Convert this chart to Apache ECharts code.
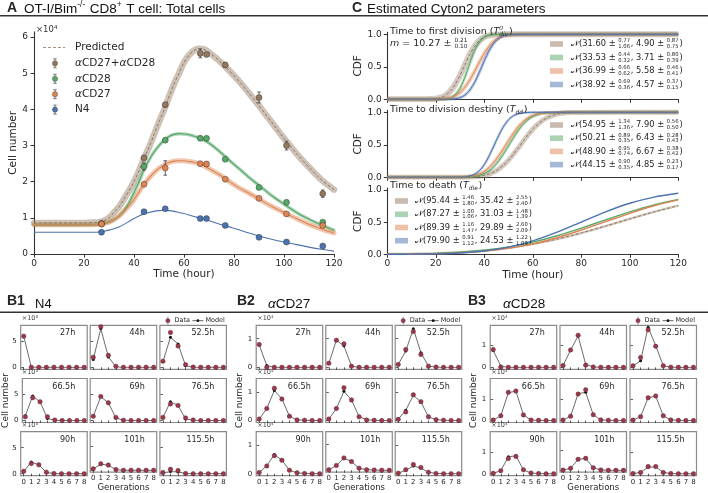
<!DOCTYPE html>
<html><head><meta charset="utf-8">
<script src="https://cdn.jsdelivr.net/npm/echarts@6/dist/echarts.min.js"></script>
<style>html,body{margin:0;padding:0;background:#fff}#c{width:708px;height:493px}</style>
</head><body><div id="c"></div><script>
// ---------------- DATA ----------------
// Panel A: total cells (x10^4)
const tObs = [27, 44, 52.5, 66.5, 69, 76.5, 90, 101, 115.5];
const obsBoth = [0.85, 2.66, 4.13, 5.55, 5.52, 5.23, 4.33, 3.00, 1.67];
const errBoth = [0.04, 0.05, 0.06, 0.12, 0.05, 0.07, 0.15, 0.12, 0.10];
const obsCD28 = [0.83, 2.42, 3.15, 3.20, 3.20, 2.62, 1.84, 1.43, 0.88];
const errCD28 = [0.03, 0.10, 0.04, 0.06, 0.03, 0.03, 0.04, 0.04, 0.03];
const obsCD27 = [0.83, 1.93, 2.38, 2.50, 2.49, 2.07, 1.54, 1.11, 0.79];
const errCD27 = [0.03, 0.03, 0.20, 0.05, 0.06, 0.03, 0.03, 0.03, 0.03];
const obsN4 = [0.60, 1.17, 1.25, 0.98, 0.98, 0.79, 0.46, 0.33, 0.22];
const errN4 = [0.02, 0.03, 0.03, 0.02, 0.02, 0.02, 0.02, 0.02, 0.02];
const tModel = [0,20,24,26,28,30,32,34,36,38,40,42,44,46,48,50,52,54,56,58,60,62,64,66,68,70,74,78,82,86,90,95,100,105,110,115,120];
const modelBoth = [0.86,0.86,0.87,0.88,0.92,1.0,1.15,1.3,1.52,1.75,2.0,2.3,2.65,2.95,3.3,3.65,3.98,4.35,4.7,5.0,5.3,5.5,5.63,5.68,5.66,5.58,5.35,5.08,4.78,4.45,4.1,3.65,3.2,2.78,2.4,2.05,1.78];
const modelCD28 = [0.81,0.81,0.81,0.82,0.84,0.88,0.95,1.05,1.2,1.42,1.7,2.0,2.33,2.6,2.82,3.0,3.14,3.25,3.31,3.33,3.32,3.3,3.26,3.21,3.15,3.07,2.85,2.6,2.36,2.12,1.9,1.62,1.38,1.15,0.96,0.8,0.66];
const modelCD27 = [0.81,0.81,0.81,0.82,0.84,0.88,0.95,1.05,1.18,1.33,1.5,1.72,1.93,2.1,2.25,2.37,2.46,2.53,2.57,2.58,2.58,2.56,2.54,2.5,2.44,2.36,2.2,2.01,1.83,1.68,1.52,1.32,1.15,0.98,0.82,0.69,0.58];
const modelN4 = [0.6,0.6,0.6,0.61,0.63,0.66,0.7,0.75,0.82,0.9,0.98,1.05,1.11,1.15,1.18,1.2,1.21,1.2,1.18,1.15,1.12,1.08,1.04,1.0,0.96,0.92,0.83,0.75,0.67,0.58,0.5,0.41,0.33,0.26,0.19,0.13,0.08];
const aXTicks = [0, 20, 40, 60, 80, 100, 120];
const aYTicks = [0, 1, 2, 3, 4, 5, 6];
const aLegend = ['αCD27+αCD28', 'αCD28', 'αCD27', 'N4'];

// Panel C: CDFs
const tDiv = [0,16,20,22,24,26,28,30,32,34,36,38,40,42,44,46,48,50,52,56,60,120];
const cdfDivBoth = [0,0.001,0.009,0.025,0.06,0.127,0.23,0.37,0.53,0.69,0.815,0.905,0.957,0.983,0.994,0.998,1,1,1,1,1,1];
const cdfDivCD28 = [0,0,0,0.001,0.005,0.021,0.068,0.171,0.34,0.55,0.75,0.885,0.959,0.989,0.998,1,1,1,1,1,1,1];
const cdfDivCD27 = [0,0,0.001,0.004,0.01,0.024,0.054,0.105,0.186,0.296,0.43,0.572,0.705,0.815,0.896,0.947,0.976,0.99,0.996,1,1,1];
const cdfDivN4 = [0,0,0,0,0.001,0.002,0.008,0.026,0.065,0.14,0.261,0.42,0.594,0.75,0.867,0.939,0.977,0.992,0.998,1,1,1];
const tDd = [0,30,32,34,36,38,40,42,44,46,48,50,52,54,56,58,60,62,64,66,68,70,72,76,80,120];
const cdfDdBoth = [0,0.001,0.002,0.004,0.008,0.016,0.029,0.05,0.083,0.129,0.19,0.265,0.354,0.452,0.553,0.651,0.739,0.814,0.874,0.919,0.951,0.972,0.985,0.996,0.999,1];
const cdfDdCD28 = [0,0.001,0.002,0.006,0.014,0.029,0.056,0.1,0.167,0.257,0.366,0.488,0.609,0.722,0.816,0.887,0.936,0.967,0.984,0.993,0.997,0.999,1,1,1,1];
const cdfDdCD27 = [0,0.002,0.006,0.013,0.027,0.051,0.091,0.151,0.232,0.332,0.446,0.565,0.678,0.777,0.856,0.914,0.952,0.975,0.988,0.995,0.998,0.999,1,1,1,1];
const cdfDdN4 = [0,0.002,0.006,0.018,0.046,0.102,0.196,0.33,0.488,0.648,0.786,0.886,0.947,0.979,0.993,0.998,1,1,1,1,1,1,1,1,1,1];
const tDie = [0,10,20,30,40,50,60,70,80,90,100,110,120];
const cdfDieBoth = [0.004,0.008,0.017,0.032,0.058,0.1,0.159,0.236,0.332,0.439,0.551,0.66,0.757];
const cdfDieCD28 = [0.002,0.006,0.015,0.032,0.064,0.115,0.19,0.289,0.408,0.535,0.66,0.768,0.854];
const cdfDieCD27 = [0.001,0.004,0.01,0.023,0.049,0.094,0.163,0.258,0.378,0.508,0.638,0.755,0.847];
const cdfDieN4 = [0.001,0.002,0.007,0.021,0.052,0.111,0.209,0.344,0.502,0.66,0.794,0.89,0.949];
const cdfTicks = [0, 0.5, 1];
// legend parameter texts: mean, +, -, sd, +, -
const divParams = [['31.60','0.77','1.06','4.90','0.87','0.75'],['33.53','0.44','0.32','3.71','0.80','0.39'],['36.99','0.66','0.62','5.58','0.46','0.41'],['38.92','0.69','0.36','4.57','0.37','0.15']];
const ddParams = [['54.95','1.34','1.36','7.90','0.56','0.50'],['50.21','0.89','0.35','6.43','0.28','0.43'],['48.90','0.95','0.74','6.67','0.38','0.42'],['44.15','0.90','0.35','4.85','0.23','0.17']];
const dieParams = [['95.44','1.46','1.80','35.42','2.55','2.40'],['87.27','1.00','1.06','31.03','1.48','1.39'],['89.39','1.16','1.47','29.89','2.60','2.09'],['79.90','0.91','1.12','24.53','1.22','1.09']];

// Panel B: cells per generation
const gens = [0,1,2,3,4,5,6,7,8];
const timeLabels = ['27h','44h','52.5h','66.5h','69h','76.5h','90h','101h','115.5h'];
const b1YTicks = [0, 5];
const b23YTicks = [0, 1];
// N4 (x10^3)
const n4Data = [
 [6.0,0,0,0,0,0,0,0,0],[1.95,7.8,2.3,0.2,0,0,0,0,0],[1.17,6.7,4.1,0.5,0.05,0,0,0,0],
 [0.7,4.4,3.6,0.7,0.1,0,0,0,0],[0.8,4.6,3.4,0.6,0.05,0,0,0,0],[0.6,3.2,2.9,0.5,0.1,0,0,0,0],
 [0.45,1.95,1.7,0.3,0.02,0,0,0,0],[0.3,1.35,1.1,0.15,0,0,0,0,0],[0.25,0.85,0.6,0.05,0,0,0,0,0]];
const n4Model = [
 [6.0,0.05,0,0,0,0,0,0,0],[1.5,7.45,2.0,0.1,0,0,0,0,0],[1.1,5.8,4.5,0.3,0.02,0,0,0,0],
 [0.9,4.7,3.6,0.4,0.05,0,0,0,0],[0.8,4.6,3.4,0.5,0.05,0,0,0,0],[0.6,3.6,2.9,0.3,0.05,0,0,0,0],
 [0.45,2.25,1.7,0.25,0.02,0,0,0,0],[0.25,1.3,1.05,0.12,0,0,0,0,0],[0.15,0.4,0.35,0.03,0,0,0,0,0]];
// aCD27 (x10^4)
const cd27Data = [
 [0.8,0,0,0,0,0,0,0,0],[0.14,0.95,0.82,0.04,0,0,0,0,0],[0.1,0.62,1.25,0.45,0.04,0.01,0,0,0],
 [0.05,0.42,1.13,0.75,0.15,0.02,0.01,0,0],[0.05,0.42,1.15,0.72,0.13,0.02,0.01,0,0],[0.04,0.3,0.9,0.66,0.13,0.03,0.01,0,0],
 [0.04,0.27,0.63,0.47,0.12,0.03,0.01,0,0],[0.02,0.18,0.47,0.33,0.08,0.02,0.01,0,0],[0.02,0.14,0.32,0.22,0.05,0.01,0,0,0]];
const cd27Model = [
 [0.78,0.06,0,0,0,0,0,0,0],[0.13,0.95,0.75,0.04,0,0,0,0,0],[0.1,0.57,1.35,0.51,0.04,0.01,0,0,0],
 [0.05,0.42,1.05,0.76,0.15,0.02,0.01,0,0],[0.05,0.42,1.02,0.72,0.14,0.02,0.01,0,0],[0.04,0.36,0.88,0.65,0.13,0.03,0.01,0,0],
 [0.04,0.28,0.67,0.47,0.12,0.03,0.01,0,0],[0.02,0.18,0.47,0.33,0.08,0.02,0.01,0,0],[0.02,0.12,0.27,0.2,0.05,0.01,0,0,0]];
// aCD28 (x10^4)
const cd28Data = [
 [0.82,0,0,0,0,0,0,0,0],[0.08,0.8,1.48,0.1,0.02,0,0,0,0],[0.07,0.45,1.73,0.97,0.07,0.01,0,0,0],
 [0.02,0.22,1.3,1.36,0.26,0.02,0.01,0,0],[0.02,0.2,1.22,1.42,0.27,0.03,0.01,0,0],[0.02,0.18,1.05,1.13,0.22,0.03,0.01,0,0],
 [0.02,0.14,0.7,0.8,0.18,0.03,0.01,0,0],[0.01,0.1,0.55,0.6,0.13,0.02,0,0,0],[0.01,0.06,0.33,0.33,0.06,0.01,0,0,0]];
const cd28Model = [
 [0.78,0.06,0,0,0,0,0,0,0],[0.08,0.8,1.45,0.14,0.02,0,0,0,0],[0.07,0.3,1.85,1.0,0.07,0.01,0,0,0],
 [0.02,0.22,1.28,1.36,0.26,0.02,0.01,0,0],[0.02,0.2,1.24,1.3,0.27,0.03,0.01,0,0],[0.02,0.18,1.05,1.13,0.22,0.03,0.01,0,0],
 [0.02,0.14,0.78,0.83,0.18,0.03,0.01,0,0],[0.01,0.1,0.55,0.6,0.13,0.02,0,0,0],[0.01,0.06,0.3,0.32,0.06,0.01,0,0,0]];

// ---------------- STYLE / LAYOUT ----------------
const FONT = 'DejaVu Sans', TFONT = 'Liberation Sans', INK = '#262626', AX = '#333';
const C_BROWN = '#937860', C_GREEN = '#55a868', C_ORANGE = '#dd8452', C_BLUE = '#4c72b0';
const C_DATA = '#983a4c';
const condColors = [C_BROWN, C_GREEN, C_ORANGE, C_BLUE];

const mctx = document.createElement('canvas').getContext('2d');
function fstr(size, fam, it, bold) { return (it ? 'italic ' : '') + (bold ? 'bold ' : '') + size + 'px "' + fam + '"'; }
function meas(t, f) { mctx.font = f; return mctx.measureText(t).width; }
function txt(x, y, t, f, c, align) {
  return { type: 'text', x: x, y: y, silent: true, z: 50,
    style: { text: t, font: f, fill: c || INK, align: align || 'left', verticalAlign: 'middle', textAlign: align || 'left', textVerticalAlign: 'middle' } };
}
function mathText(x, y, parts, base) {
  const els = []; let cx = x;
  for (const p of parts) {
    const size = p.s || base.size, fam = p.f || base.fam;
    if (p.t !== undefined) {
      const f = fstr(size, fam, p.i, p.b);
      els.push(txt(cx, y + (p.dy || 0), p.t, f, base.color));
      cx += meas(p.t, f);
    } else {
      const ss = p.ss || size * 0.62; const f = fstr(ss, fam, p.i, false);
      let w = 0;
      if (p.sup !== undefined) { els.push(txt(cx, y - size * (p.supUp || 0.36), p.sup, f, base.color)); w = Math.max(w, meas(p.sup, f)); }
      if (p.sub !== undefined) { els.push(txt(cx, y + size * (p.subDn || 0.32), p.sub, f, base.color)); w = Math.max(w, meas(p.sub, f)); }
      cx += w + 0.8;
    }
  }
  return els;
}
function lineEl(x1, y1, x2, y2, c, w, dash) {
  const s = { stroke: c, lineWidth: w };
  if (dash) s.lineDash = dash;
  return { type: 'line', silent: true, z: 50, shape: { x1, y1, x2, y2 }, style: s };
}
function zip(xs, ys) { return xs.map((x, i) => [x, ys[i]]); }

const grids = [], xAxes = [], yAxes = [], series = [], G = [];

// ---- Panel A grid (index 0)
grids.push({ left: 34, top: 31.7, width: 300, height: 222.3 });
xAxes.push({ gridIndex: 0, type: 'value', min: 0, max: 120, interval: 20,
  axisLine: { show: true, lineStyle: { color: AX, width: 1.1 } }, axisTick: { show: true, length: 3.5, lineStyle: { color: AX } },
  axisLabel: { fontSize: 9, fontFamily: FONT, color: INK, margin: 5 }, splitLine: { show: false },
  name: 'Time (hour)', nameLocation: 'middle', nameGap: 14.5, nameTextStyle: { fontSize: 10.5, fontFamily: FONT, color: INK } });
yAxes.push({ gridIndex: 0, type: 'value', min: 0, max: 6.15,
  axisLine: { show: true, lineStyle: { color: AX, width: 1.1 } }, axisTick: { show: true, length: 3.5, customValues: aYTicks, lineStyle: { color: AX } },
  axisLabel: { fontSize: 9, fontFamily: FONT, color: INK, margin: 6, customValues: aYTicks }, splitLine: { show: false },
  name: 'Cell number', nameLocation: 'middle', nameGap: 13, nameRotate: 90, nameTextStyle: { fontSize: 10.5, fontFamily: FONT, color: INK } });

const aModels = [modelBoth, modelCD28, modelCD27, modelN4];
const aObs = [obsBoth, obsCD28, obsCD27, obsN4];
const aErr = [errBoth, errCD28, errCD27, errN4];
const aBand = [6.5, 3.5, 5, 0];
aModels.forEach((m, k) => {
  if (aBand[k] > 0) series.push({ type: 'line', xAxisIndex: 0, yAxisIndex: 0, data: zip(tModel, m), symbol: 'none', smooth: 0.3, silent: true, z: 1,
    lineStyle: { color: condColors[k], width: aBand[k], opacity: 0.45, cap: 'round' } });
  series.push({ type: 'line', xAxisIndex: 0, yAxisIndex: 0, data: zip(tModel, m), symbol: 'none', smooth: 0.3, silent: true, z: 2,
    lineStyle: k === 0 ? { color: '#8c7763', width: 1, type: [3, 2] } : { color: condColors[k], width: 1.1 } });
});
function errSeries(gi, xs, ys, es, z) {
  return { type: 'custom', xAxisIndex: gi, yAxisIndex: gi, z: z || 3, silent: true, clip: false, encode: { x: 0, y: 1 },
    data: xs.map((x, i) => [x, ys[i], es[i]]),
    renderItem: (p, api) => {
      const t = api.value(0), v = api.value(1), e = api.value(2);
      const a = api.coord([t, v - e]), b = api.coord([t, v + e]);
      const st = { stroke: '#3a3a3a', lineWidth: 0.8 };
      return { type: 'group', children: [
        { type: 'line', shape: { x1: a[0], y1: a[1], x2: b[0], y2: b[1] }, style: st },
        { type: 'line', shape: { x1: a[0] - 1.8, y1: a[1], x2: a[0] + 1.8, y2: a[1] }, style: st },
        { type: 'line', shape: { x1: b[0] - 1.8, y1: b[1], x2: b[0] + 1.8, y2: b[1] }, style: st }] };
    } };
}
aObs.forEach((o, k) => {
  series.push(errSeries(0, tObs, o, aErr[k], 3));
  series.push({ type: 'scatter', xAxisIndex: 0, yAxisIndex: 0, data: zip(tObs, o), symbol: 'circle', symbolSize: 6, silent: true, z: 4,
    itemStyle: { color: condColors[k], borderColor: 'rgba(40,40,40,0.7)', borderWidth: 0.6, opacity: 1 } });
});

// ---- Panel C grids (1..3)
const cTops = [32.4, 110.4, 188.1], cHeights = [66.9, 66.9, 66.2];
const cT = [tDiv, tDd, tDie];
const cCurves = [[cdfDivBoth, cdfDivCD28, cdfDivCD27, cdfDivN4], [cdfDdBoth, cdfDdCD28, cdfDdCD27, cdfDdN4], [cdfDieBoth, cdfDieCD28, cdfDieCD27, cdfDieN4]];
const cBands = [[6, 3, 4, 3], [5, 3, 3.5, 2.5], [2.5, 0, 0, 0]];
for (let j = 0; j < 3; j++) {
  const gi = 1 + j;
  grids.push({ left: 387.3, top: cTops[j], width: 291, height: cHeights[j] });
  xAxes.push({ gridIndex: gi, type: 'value', min: 0, max: 120, interval: 20,
    axisLine: { show: true, lineStyle: { color: AX, width: 1.1 } }, axisTick: { show: true, length: 3.5, lineStyle: { color: AX } },
    axisLabel: { show: j === 2, fontSize: 9, fontFamily: FONT, color: INK, margin: 5 }, splitLine: { show: false },
    name: j === 2 ? 'Time (hour)' : '', nameLocation: 'middle', nameGap: 15, nameTextStyle: { fontSize: 10.5, fontFamily: FONT, color: INK } });
  yAxes.push({ gridIndex: gi, type: 'value', min: 0, max: 1.03,
    axisLine: { show: true, lineStyle: { color: AX, width: 1.1 } }, axisTick: { show: true, length: 3.5, customValues: cdfTicks, lineStyle: { color: AX } },
    axisLabel: { fontSize: 9, fontFamily: FONT, color: INK, margin: 5.5, customValues: cdfTicks, formatter: v => v.toFixed(1) }, splitLine: { show: false },
    name: 'CDF', nameLocation: 'middle', nameGap: 20, nameRotate: 90, nameTextStyle: { fontSize: 10.5, fontFamily: FONT, color: INK } });
  cCurves[j].forEach((cv, k) => {
    if (cBands[j][k] > 0) series.push({ type: 'line', xAxisIndex: gi, yAxisIndex: gi, data: zip(cT[j], cv), symbol: 'none', smooth: 0.25, silent: true, z: 1,
      lineStyle: { color: condColors[k], width: cBands[j][k], opacity: 0.4 } });
    series.push({ type: 'line', xAxisIndex: gi, yAxisIndex: gi, data: zip(cT[j], cv), symbol: 'none', smooth: 0.25, silent: true, z: 2,
      lineStyle: k === 0 ? { color: '#8c7763', width: 1, type: [3, 2] } : { color: condColors[k], width: j === 2 ? 1.4 : 1 } });
  });
}

// ---- Panel B grids (4..30)
const rowTops = [325.3, 378.5, 431.7], bH = 44, bW = 66.5;
const bLefts = [[20.7, 90.2, 159.9], [256.2, 325.8, 395.2], [490.2, 560.0, 630.0]];
const bYR = [[-0.385, 8.085], [-0.07, 1.47], [-0.09, 1.94]];
const bYT = [b1YTicks, b23YTicks, b23YTicks];
const bNameGap = [7, 7, 4.5];
const bData = [n4Data, cd27Data, cd28Data], bModel = [n4Model, cd27Model, cd28Model];
const bExp = ['×10³', '×10⁴', '×10⁴'];
for (let p = 0; p < 3; p++) {
  for (let r = 0; r < 3; r++) {
    for (let c = 0; c < 3; c++) {
      const gi = grids.length, k = r * 3 + c;
      grids.push({ left: bLefts[p][c], top: rowTops[r], width: bW, height: bH, show: true, borderColor: '#8a8a8a', borderWidth: 1.2, backgroundColor: 'transparent' });
      xAxes.push({ gridIndex: gi, type: 'value', min: -0.4, max: 8.4,
        axisLine: { show: false }, axisTick: { show: true, length: 2.5, customValues: gens, lineStyle: { color: AX, width: 0.8 } },
        axisLabel: { show: r === 2, customValues: gens, fontSize: 7, fontFamily: FONT, color: INK, margin: 3 }, splitLine: { show: false },
        name: (r === 2 && c === 1) ? 'Generations' : '', nameLocation: 'middle', nameGap: 10, nameTextStyle: { fontSize: 8.5, fontFamily: FONT, color: INK } });
      yAxes.push({ gridIndex: gi, type: 'value', min: bYR[p][0], max: bYR[p][1],
        axisLine: { show: false }, axisTick: { show: true, length: 2.5, customValues: bYT[p], lineStyle: { color: AX, width: 0.8 } },
        axisLabel: { show: c === 0, customValues: bYT[p], fontSize: 7, fontFamily: FONT, color: INK, margin: 4 }, splitLine: { show: false },
        name: (r === 1 && c === 0) ? 'Cell number' : '', nameLocation: 'middle', nameGap: bNameGap[p], nameRotate: 90, nameTextStyle: { fontSize: 9, fontFamily: FONT, color: INK } });
      series.push({ type: 'line', xAxisIndex: gi, yAxisIndex: gi, data: zip(gens, bModel[p][k]), symbol: 'circle', symbolSize: 3, showSymbol: true, silent: true, z: 2,
        lineStyle: { color: '#5a5a5a', width: 0.9 }, itemStyle: { color: '#111', borderWidth: 0 } });
      series.push({ type: 'scatter', xAxisIndex: gi, yAxisIndex: gi, data: zip(gens, bData[p][k]), symbol: 'circle', symbolSize: 4.5, silent: true, z: 3,
        itemStyle: { color: C_DATA, borderColor: '#5e2230', borderWidth: 0.4, opacity: 1 } });
      G.push(txt(bLefts[p][c] + bW - 12, rowTops[r] + 8, timeLabels[k], fstr(8, FONT), INK, 'right'));
      if (c === 0) G.push(txt(bLefts[p][0] + 1, rowTops[r] - 6.5, bExp[p], fstr(6.5, FONT), '#444'));
    }
  }
  // B legend
  const mx = bLefts[p][2] + bW - 58.5, ly = 320.7;
  G.push(lineEl(mx, ly - 4, mx, ly + 4, '#555', 0.6));
  G.push({ type: 'circle', silent: true, z: 50, shape: { cx: mx, cy: ly, r: 2.1 }, style: { fill: C_DATA, stroke: '#5e2230', lineWidth: 0.4 } });
  G.push(txt(mx + 6.5, ly, 'Data', fstr(6.5, FONT)));
  G.push(lineEl(mx + 24.5, ly, mx + 35.5, ly, '#555', 0.9));
  G.push({ type: 'circle', silent: true, z: 50, shape: { cx: mx + 30, cy: ly, r: 1.4 }, style: { fill: '#111' } });
  G.push(txt(mx + 37.5, ly, 'Model', fstr(6.5, FONT)));
}

// ---- Titles & rules
G.push(lineEl(0, 15.8, 708, 15.8, '#333', 1.5));
G.push(lineEl(0, 312.3, 708, 312.3, '#333', 1.5));
G.push(txt(7, 8.5, 'A', fstr(14, TFONT, false, true)));
G.push(...mathText(24, 9, [{ t: 'OT-I/Bim' }, { sup: '-/-', ss: 8.5, supUp: 0.3 }, { t: ' CD8' }, { sup: '+', ss: 8.5, supUp: 0.3 }, { t: ' T cell: Total cells' }], { size: 13.5, fam: TFONT, color: '#111' }));
G.push(txt(352, 8.5, 'C', fstr(14, TFONT, false, true)));
G.push(txt(367, 9, 'Estimated Cyton2 parameters', fstr(13.5, TFONT), '#111'));
G.push(txt(7, 301, 'B1', fstr(14, TFONT, false, true)));
G.push(txt(35, 304.5, 'N4', fstr(13, TFONT), '#111'));
G.push(txt(237, 301, 'B2', fstr(14, TFONT, false, true)));
G.push(...mathText(268, 304, [{ t: 'α', i: true }, { t: 'CD27' }], { size: 13.5, fam: TFONT, color: '#111' }));
G.push(txt(468, 301, 'B3', fstr(14, TFONT, false, true)));
G.push(...mathText(503, 304, [{ t: 'α', i: true }, { t: 'CD28' }], { size: 13.5, fam: TFONT, color: '#111' }));

// ---- Panel A legend
G.push(txt(36, 30, '×10⁴', fstr(8.5, FONT), '#333'));
G.push(lineEl(43, 47.5, 65, 47.5, '#a8917a', 1.2, [3, 2]));
G.push(txt(75, 47.7, 'Predicted', fstr(10.5, FONT)));
const aLegY = [63.3, 78.8, 94.2, 109.6];
aLegend.forEach((lab, k) => {
  const y = aLegY[k];
  G.push(lineEl(55, y - 4.5, 55, y + 4.5, '#444', 0.7));
  G.push(lineEl(53.3, y - 4.5, 56.7, y - 4.5, '#444', 0.7));
  G.push(lineEl(53.3, y + 4.5, 56.7, y + 4.5, '#444', 0.7));
  G.push({ type: 'circle', silent: true, z: 50, shape: { cx: 55, cy: y, r: 2.6 }, style: { fill: condColors[k], stroke: 'rgba(40,40,40,0.7)', lineWidth: 0.5 } });
  const parts = [];
  lab.split(/(α)/).filter(s => s).forEach(s => parts.push(s === 'α' ? { t: 'α', i: true } : { t: s }));
  G.push(...mathText(75, y, parts, { size: 10.5, fam: FONT, color: INK }));
});

// ---- Panel C texts & legends
const mbase = { size: 9.5, fam: FONT, color: INK };
G.push(...mathText(390, 31.7, [{ t: 'Time to first division (' }, { t: 'T', i: true }, { sup: '0', sub: 'div', i: true }, { t: ')' }], mbase));
G.push(...mathText(390, 43.5, [{ t: 'm', i: true }, { t: ' = 10.27 ± ' }, { sup: '0.21', sub: '0.10' }], mbase));
G.push(...mathText(390, 109.5, [{ t: 'Time to division destiny (' }, { t: 'T', i: true }, { sub: 'dd', i: true, subDn: 0.28 }, { t: ')' }], mbase));
G.push(...mathText(390, 185.5, [{ t: 'Time to death (' }, { t: 'T', i: true }, { sub: 'die', i: true, subDn: 0.28 }, { t: ')' }], mbase));
function cLegend(px, tx, ys, params) {
  params.forEach((pr, k) => {
    const y = ys[k];
    G.push({ type: 'rect', silent: true, z: 50, shape: { x: px, y: y - 2.8, width: 13, height: 5.6 }, style: { fill: condColors[k], opacity: 0.5 } });
    G.push(...mathText(tx, y, [{ t: '𝒩(' }, { t: pr[0] + ' ± ' }, { sup: pr[1], sub: pr[2], ss: 5.3 }, { t: ', ' + pr[3] + ' ± ' }, { sup: pr[4], sub: pr[5], ss: 5.3 }, { t: ')' }],
      { size: 8.3, fam: FONT, color: INK }));
  });
}
cLegend(550, 571, [44, 57.5, 71, 84.5], divParams);
cLegend(550, 571, [125, 138.2, 151.4, 164.6], ddParams);
cLegend(395, 415, [201, 214.3, 227.5, 240.7], dieParams);

const chart = echarts.init(document.getElementById('c'), null, { renderer: 'canvas' });
chart.setOption({
  animation: false, backgroundColor: '#fff',
  textStyle: { fontFamily: FONT },
  grid: grids, xAxis: xAxes, yAxis: yAxes, series: series,
  graphic: { elements: G }
});
</script></body></html>
